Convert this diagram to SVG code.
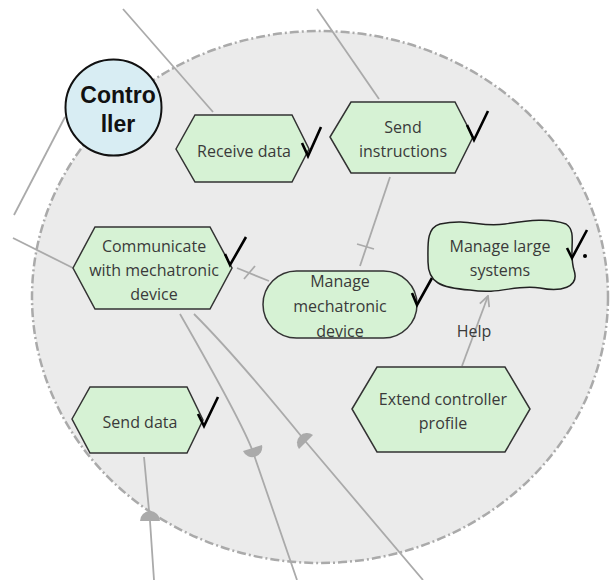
<svg xmlns="http://www.w3.org/2000/svg" width="613" height="580" viewBox="0 0 613 580">
<defs>
<style>
.hex{fill:#d6f2d4;stroke:#333;stroke-width:1.5}
.t{font-family:"Open Sans","Liberation Sans",sans-serif;font-size:16px;fill:#3a3a3a;text-anchor:middle}
.c{fill:none;stroke:#aaa;stroke-width:1.8}
.tick{fill:none;stroke:#000;stroke-width:2.6;stroke-linejoin:miter}
.half{fill:#aaa;stroke:none}
</style>
<marker id="open" viewBox="0 0 12 12" refX="11" refY="6" markerWidth="12" markerHeight="12" markerUnits="userSpaceOnUse" orient="auto">
<path d="M1,1 L11,6 L1,11" fill="none" stroke="#aaa" stroke-width="1.8"/>
</marker>
</defs>
<rect width="613" height="580" fill="#fff"/>
<ellipse id="boundary" cx="320" cy="297" rx="288" ry="266" fill="#ebebeb" stroke="#aaa" stroke-width="2.5" stroke-dasharray="9 3 2 3"/>
<g id="connectors">
<path class="c" d="M123,9 L213,112"/>
<path class="c" d="M317,9 L379,99"/>
<path class="c" d="M65,117 L14,215"/>
<path class="c" d="M13,238 L73,268"/>
<path class="c" d="M237,268 L269,281"/>
<path class="c" d="M244,279 L255,266"/>
<path class="c" d="M390,177 L360,266"/>
<path class="c" d="M357,244 L374,249"/>
<path class="c" d="M144,457 L150,521 L154,580"/>
<path class="half" d="M140,521 A10,10 0 0 1 160,521 Z"/>
<path class="c" d="M180,314 C215,375 245,430 253,452 L297,580"/>
<path class="half" d="M243,451 A10,10 0 0 0 262,445 Z"/>
<path class="c" d="M194,314 C230,350 280,410 306,442 L423,580"/>
<path class="half" d="M299,449 A10,10 0 0 1 313,435 Z"/>
<path class="c" d="M462,366 L488,296" marker-end="url(#open)"/>
<text class="t" x="474" y="337">Help</text>
</g>
<g id="controller">
<circle cx="113.5" cy="107.5" r="48" fill="#d8edf3" stroke="#111" stroke-width="2"/>
<text x="118" y="103" font-family="Liberation Sans,Arial,sans-serif" font-weight="bold" font-size="23" fill="#111" text-anchor="middle">Contro</text>
<text x="118" y="132" font-family="Liberation Sans,Arial,sans-serif" font-weight="bold" font-size="23" fill="#111" text-anchor="middle">ller</text>
</g>
<g id="receive-data">
<polygon class="hex" points="176,149 195,115 292,115 309,149 292,182 195,182"/>
<text class="t" x="244" y="157">Receive data</text>
<path class="tick" d="M302,143 L308,156 L321,127"/>
</g>
<g id="send-instructions">
<polygon class="hex" points="330,137 351,102 455,102 473,137 455,173 351,173"/>
<text class="t" x="403" y="133">Send</text>
<text class="t" x="403" y="157">instructions</text>
<path class="tick" d="M467,125 L474,140 L488,111"/>
</g>
<g id="communicate">
<polygon class="hex" points="73,268 95,227 210,227 232,268 210,309 95,309"/>
<text class="t" x="154" y="252">Communicate</text>
<text class="t" x="154" y="276">with mechatronic</text>
<text class="t" x="154" y="300">device</text>
<path class="tick" d="M225,254 L230,265 L246,237"/>
</g>
<g id="manage-mechatronic">
<rect x="263" y="271" width="154" height="67" rx="33.5" fill="#d6f2d4" stroke="#333" stroke-width="1.5"/>
<text class="t" x="340" y="287">Manage</text>
<text class="t" x="340" y="312">mechatronic</text>
<text class="t" x="340" y="337">device</text>
<path class="tick" d="M412,293 L417,305 L432,278"/>
</g>
<g id="manage-large">
<path d="M440,224 C470,218 480,228 505,224 C530,220 550,218 566,224 C578,232 568,250 574,270 C580,288 560,292 540,288 C515,284 500,295 470,290 C440,288 428,282 428,262 C428,245 426,228 440,224 Z" fill="#d6f2d4" stroke="#222" stroke-width="1.5"/>
<text class="t" x="500" y="252">Manage large</text>
<text class="t" x="500" y="276">systems</text>
<path class="tick" d="M567,248 L572,258 L587,230"/>
<circle cx="585" cy="256" r="2" fill="#000"/>
</g>
<g id="send-data">
<polygon class="hex" points="72,419 90,387 187,387 203,420 187,453 90,453"/>
<text class="t" x="140" y="428">Send data</text>
<path class="tick" d="M198,414 L204,426 L218,397"/>
</g>
<g id="extend-controller">
<polygon class="hex" points="352,409 377,367 505,367 530,409 505,452 377,452"/>
<text class="t" x="443" y="405">Extend controller</text>
<text class="t" x="443" y="429">profile</text>
</g>
</svg>
